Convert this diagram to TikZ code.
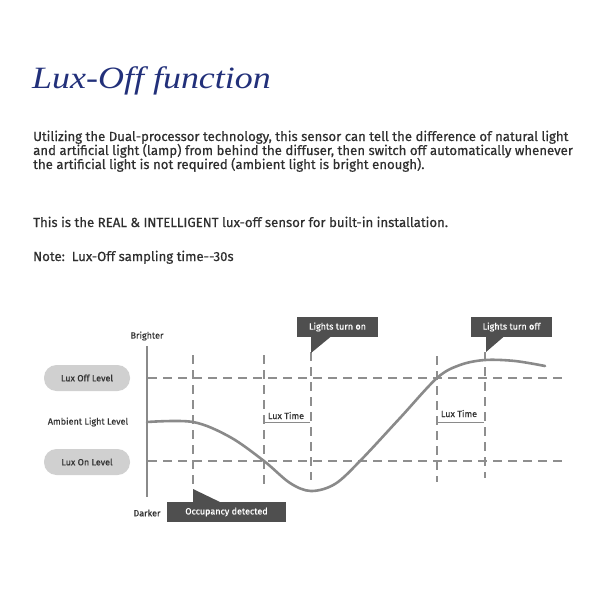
\documentclass[tikz,border=0pt]{standalone}
\usepackage{fontspec}
\setmainfont{Fira Sans}
\newfontfamily\bodyfont{Fira Sans}[FakeBold=0.6]
\newfontfamily\titlefont{Liberation Serif}[FakeStretch=1.16]
\definecolor{titleblue}{HTML}{22307A}
\definecolor{bodytext}{HTML}{2E2E2E}
\definecolor{curvegray}{HTML}{8A8A8A}
\definecolor{dashgray}{HTML}{8E8E8E}
\definecolor{pillgray}{HTML}{D0D0D0}
\definecolor{calloutgray}{HTML}{4F4F4F}
\begin{document}
\begin{tikzpicture}[x=1pt,y=-1pt,
  bodyline/.style={anchor=base west,inner sep=0pt,text=bodytext,font=\bodyfont\fontsize{13.2}{14}\selectfont},
  dashline/.style={draw=dashgray,line width=1.6pt,dash pattern=on 9pt off 6pt},
  pill/.style={fill=pillgray,rounded corners=12.5pt,minimum width=86pt,minimum height=26pt,inner sep=0pt,font=\bodyfont\fontsize{9}{10}\selectfont,text=black!80},
  axislabel/.style={inner sep=0pt,font=\bodyfont\fontsize{9}{10}\selectfont,text=black!80},
  callout/.style={fill=calloutgray,text=white,inner sep=0pt,minimum height=20pt,font=\bodyfont\fontsize{9}{10}\selectfont},
  luxlbl/.style={anchor=base,inner sep=0pt,font=\bodyfont\fontsize{9}{10}\selectfont,text=black!80},
  thinline/.style={draw=curvegray,line width=0.6pt}]
\useasboundingbox (0,0) rectangle (600,600);
% title and text
\node[anchor=base west,inner sep=0pt,text=titleblue,font=\titlefont\itshape\fontsize{31}{36}\selectfont] (title) at (32,88) {Lux-Off function};
\node[bodyline] (l1) at (33,141) {Utilizing the Dual-processor technology, this sensor can tell the difference of natural light};
\node[bodyline] (l2) at (33,155) {and artificial light (lamp) from behind the diffuser, then switch off automatically whenever};
\node[bodyline] (l3) at (33,169) {the artificial light is not required (ambient light is bright enough).};
\node[bodyline] (l4) at (33,227) {This is the REAL \& INTELLIGENT lux-off sensor for built-in installation.};
\node[bodyline] (l5) at (33,261) {Note:\ \ Lux-Off sampling time-{}-30s};
% axis
\coordinate (axtop) at (147,346);
\coordinate (axbot) at (147,497);
\draw[draw=curvegray,line width=2.6pt] (axtop) -- (axbot);
\node[axislabel] (brighter) at (147,336) {Brighter};
\node[axislabel] (darker) at (147,513) {Darker};
\node[axislabel] (ambient) at (88,422) {Ambient Light Level};
\node[pill] (luxoff) at (87,378) {Lux Off Level};
\node[pill] (luxon) at (87,462) {Lux On Level};
% horizontal dashed levels
\coordinate (offL) at (148,378); \coordinate (offR) at (566,378);
\coordinate (onL) at (148,461); \coordinate (onR) at (566,461);
\draw[dashline] (offL) -- (offR);
\draw[dashline] (onL) -- (onR);
% vertical dashed lines
\coordinate (v1t) at (193,355); \coordinate (v1b) at (193,486);
\coordinate (v2t) at (264,355); \coordinate (v2b) at (264,486);
\coordinate (v3t) at (311,352); \coordinate (v3b) at (311,480);
\coordinate (v4t) at (437,356); \coordinate (v4b) at (437,482);
\coordinate (v5t) at (485,352); \coordinate (v5b) at (485,478);
\draw[dashline] (v1t) -- (v1b);
\draw[dashline] (v2t) -- (v2b);
\draw[dashline] (v3t) -- (v3b);
\draw[dashline] (v4t) -- (v4b);
\draw[dashline] (v5t) -- (v5b);
% lux time
\coordinate (lt1a) at (265,422); \coordinate (lt1b) at (310,422);
\coordinate (lt2a) at (438,422); \coordinate (lt2b) at (484,422);
\draw[thinline] (lt1a) -- (lt1b);
\draw[thinline] (lt2a) -- (lt2b);
\node[luxlbl] (lux1) at (286,419) {Lux Time};
\node[luxlbl] (lux2) at (459,417) {Lux Time};
% curve
\draw[draw=curvegray,line width=2.6pt,line cap=round] plot[smooth,tension=0.55] coordinates {(147,422) (193,422) (230,437) (264,461) (290,483) (311,491) (335,484) (360,461) (400,418) (437,378) (460,365) (485,360) (515,361) (545,366)};
% callouts
\node[callout,minimum width=81pt] (on) at (337.5,327) {Lights turn on};
\fill[calloutgray] (311,336.5) -- (331,336.5) -- (311,353) -- cycle;
\node[callout,minimum width=81pt] (off) at (511.5,327) {Lights turn off};
\fill[calloutgray] (486,336.5) -- (504,336.5) -- (486,352) -- cycle;
\node[callout,minimum width=119pt] (occ) at (226.5,512) {Occupancy detected};
\fill[calloutgray] (193,502.5) -- (193,489) -- (221,502.5) -- cycle;
\end{tikzpicture}
\end{document}
